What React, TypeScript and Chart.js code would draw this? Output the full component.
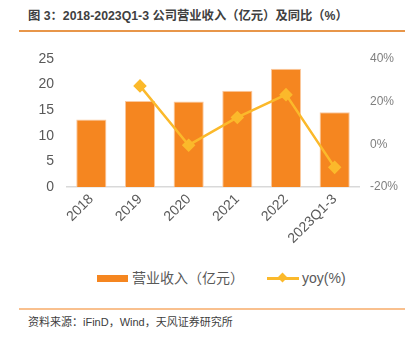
import React, { useEffect, useRef } from "react";
import { Chart, registerables } from "chart.js";

Chart.register(...registerables);

const categories = ["2018", "2019", "2020", "2021", "2022", "2023Q1-3"];
const revenue = [13.2, 16.8, 16.7, 18.8, 23.1, 14.6];
const yoy = [null, 27.4, -0.4, 12.6, 23.3, -10.8];
const leftTicks = [0, 5, 10, 15, 20, 25];
const rightTicks = [-20, 0, 20, 40];

const FONT = "Arial, 'Liberation Sans', 'Noto Sans CJK SC', sans-serif";

export default function App() {
  const ref = useRef<HTMLCanvasElement>(null);
  useEffect(() => {
    if (!ref.current) return;
    const chart = new Chart(ref.current, {
      type: "bar",
      data: {
        labels: categories,
        datasets: [
          {
            type: "line",
            label: "yoy(%)",
            data: yoy,
            yAxisID: "y1",
            borderColor: "#FBB92B",
            backgroundColor: "#FBB92B",
            borderWidth: 2.5,
            pointStyle: "rectRot",
            pointRadius: 5,
            pointHoverRadius: 5,
            tension: 0,
            spanGaps: false,
            order: 0,
          } as any,
          {
            type: "bar",
            label: "营业收入（亿元）",
            data: revenue,
            yAxisID: "y",
            backgroundColor: "#F58620",
            borderColor: "#FAC9A0",
            borderWidth: 1,
            categoryPercentage: 1,
            barPercentage: 0.62,
            order: 1,
          } as any,
        ],
      },
      options: {
        animation: false,
        responsive: false,
        maintainAspectRatio: false,
        layout: { padding: { top: 59, left: 0, right: 0, bottom: 0 } },
        plugins: { legend: { display: false }, tooltip: { enabled: false } },
        scales: {
          x: {
            grid: { display: false, drawTicks: false },
            border: { display: true, color: "#D9D9D9", width: 1.5 },
            ticks: {
              color: "#595959",
              font: { family: FONT, size: 14 },
              minRotation: 45,
              maxRotation: 45,
              padding: 4,
            },
            afterFit: (s: any) => {
              s.height = 78;
            },
          },
          y: {
            position: "left",
            min: 0,
            max: 25,
            grid: { display: false, drawTicks: false },
            border: { display: false },
            afterBuildTicks: (s: any) => {
              s.ticks = leftTicks.map((v) => ({ value: v }));
            },
            ticks: {
              color: "#595959",
              font: { family: FONT, size: 14 },
              padding: 13,
            },
            afterFit: (s: any) => {
              s.width = 67;
            },
          },
          y1: {
            position: "right",
            min: -20,
            max: 40,
            grid: { display: false, drawTicks: false },
            border: { display: false },
            afterBuildTicks: (s: any) => {
              s.ticks = rightTicks.map((v) => ({ value: v }));
            },
            ticks: {
              color: "#7F7F7F",
              font: { family: FONT, size: 12 },
              padding: 11,
              callback: (v: any) => v + "%",
            },
            afterFit: (s: any) => {
              s.width = 56;
            },
          },
        },
      },
    });
    return () => chart.destroy();
  }, []);

  return (
    <div
      style={{
        position: "fixed",
        left: 0,
        top: 0,
        width: 415,
        height: 340,
        background: "#fff",
        fontFamily: FONT,
        overflow: "hidden",
      }}
    >
      <div
        style={{
          position: "absolute",
          left: 28,
          top: 8,
          fontSize: 12.3,
          fontWeight: "bold",
          color: "#404040",
          whiteSpace: "nowrap",
          lineHeight: "16px",
        }}
      >
        图 3：2018-2023Q1-3 公司营业收入（亿元）及同比（%）
      </div>
      <div
        style={{
          position: "absolute",
          left: 19,
          top: 30,
          width: 386,
          height: 2,
          background: "#E8964A",
        }}
      />
      <canvas
        ref={ref}
        width={415}
        height={265}
        style={{ position: "absolute", left: 0, top: 0, width: 415, height: 265 }}
      />
      <div
        style={{
          position: "absolute",
          left: 97,
          top: 275,
          width: 31,
          height: 7,
          background: "#F58620",
        }}
      />
      <div
        style={{
          position: "absolute",
          left: 132,
          top: 269,
          fontSize: 14,
          color: "#595959",
          lineHeight: "18px",
          whiteSpace: "nowrap",
        }}
      >
        营业收入（亿元）
      </div>
      <div
        style={{
          position: "absolute",
          left: 267,
          top: 277,
          width: 32,
          height: 2.5,
          background: "#FBB92B",
        }}
      />
      <div
        style={{
          position: "absolute",
          left: 279,
          top: 274,
          width: 7,
          height: 7,
          background: "#FBB92B",
          transform: "rotate(45deg)",
        }}
      />
      <div
        style={{
          position: "absolute",
          left: 302,
          top: 269,
          fontSize: 14,
          color: "#595959",
          lineHeight: "18px",
          whiteSpace: "nowrap",
        }}
      >
        yoy(%)
      </div>
      <div
        style={{
          position: "absolute",
          left: 19,
          top: 308,
          width: 386,
          height: 2,
          background: "#F9C08E",
        }}
      />
      <div
        style={{
          position: "absolute",
          left: 28,
          top: 315,
          fontSize: 11,
          color: "#404040",
          lineHeight: "14px",
          whiteSpace: "nowrap",
        }}
      >
        资料来源：iFinD，Wind，天风证券研究所
      </div>
    </div>
  );
}
